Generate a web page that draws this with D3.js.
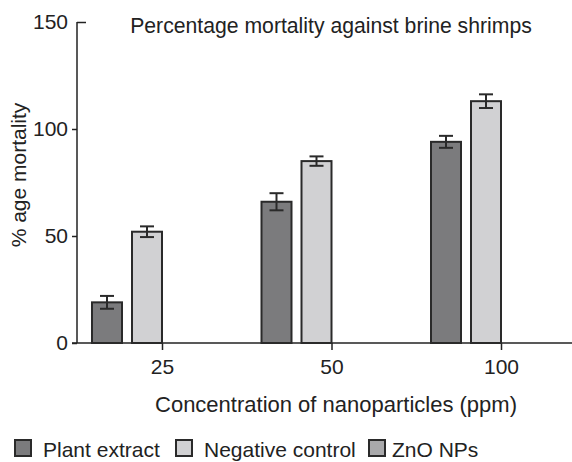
<!DOCTYPE html>
<html><head><meta charset="utf-8">
<script src="https://cdn.jsdelivr.net/npm/d3@7"></script>
<style>body{margin:0;background:#fff}svg{display:block}text{font-family:"Liberation Sans",Arial,sans-serif;fill:#222}</style>
</head><body><svg id="c" width="572" height="462"></svg>
<script>
const categories = ["25","50","100"];
const seriesNames = ["Plant extract","Negative control","ZnO NPs"];
const plantExtract = [19, 66, 94];
const plantErr = [3, 4, 2.8];
const negativeControl = [52, 85, 113];
const negErr = [2.5, 2.2, 3.2];
const znoNPs = [0, 0, 0];
const yTicks = [0, 50, 100, 150];
const colors = ["#7b7b7d", "#d1d1d3", "#a9a9ab"];

const svg = d3.select("#c");
const y = d3.scaleLinear().domain([0,150]).range([343,22]);
const x = d3.scalePoint().domain(categories).range([162,501]);
const barW = 30;
const offsets = [-70, -30];
const series = [
  {vals: plantExtract, err: plantErr, color: colors[0]},
  {vals: negativeControl, err: negErr, color: colors[1]}
];

// axes
const ax = svg.append("g").attr("transform","translate(77,0)")
  .call(d3.axisLeft(y).tickValues(yTicks).tickSize(5).tickPadding(4).tickFormat(d3.format("d")));
ax.select(".domain").remove();
ax.selectAll("text").style("font-size","21px").attr("fill","#222");
ax.selectAll("line").attr("stroke","#222").attr("stroke-width",1.5);
ax.selectAll(".tick").filter(d=>d===150).select("line").attr("x2",9);
svg.append("line").attr("x1",77).attr("x2",77).attr("y1",y(150)).attr("y2",y(0)).attr("stroke","#222").attr("stroke-width",1.5);
svg.append("line").attr("x1",72).attr("x2",572).attr("y1",y(0)).attr("y2",y(0)).attr("stroke","#222").attr("stroke-width",1.5);

const xa = svg.append("g").attr("transform",`translate(0,${y(0)})`)
  .call(d3.axisBottom(x).tickSize(7).tickPadding(9));
xa.select(".domain").remove();
xa.selectAll("text").style("font-size","21px").attr("fill","#222");
xa.selectAll("line").attr("stroke","#222").attr("stroke-width",1.5);

// bars
series.forEach((s,si)=>{
  const g = svg.append("g");
  g.selectAll("rect").data(s.vals).join("rect")
    .attr("x",(d,i)=>x(categories[i])+offsets[si])
    .attr("y",d=>y(d))
    .attr("width",barW)
    .attr("height",d=>y(0)-y(d))
    .attr("fill",s.color).attr("stroke","#2a2a2a").attr("stroke-width",2);
  s.vals.forEach((v,i)=>{
    const cx = x(categories[i])+offsets[si]+barW/2;
    const e = s.err[i];
    g.append("line").attr("x1",cx).attr("x2",cx).attr("y1",y(v+e)).attr("y2",y(v-e)).attr("stroke","#2a2a2a").attr("stroke-width",2);
    [v+e, v-e].forEach(t=>g.append("line").attr("x1",cx-7).attr("x2",cx+7).attr("y1",y(t)).attr("y2",y(t)).attr("stroke","#2a2a2a").attr("stroke-width",2));
  });
});

// titles
svg.append("text").attr("x",331).attr("y",33).attr("text-anchor","middle").style("font-size","21.2px").text("Percentage mortality against brine shrimps");
svg.append("text").attr("x",336).attr("y",412).attr("text-anchor","middle").style("font-size","22px").text("Concentration of nanoparticles (ppm)");
svg.append("text").attr("transform","translate(26,175) rotate(-90)").attr("text-anchor","middle").style("font-size","21px").text("% age mortality");

// legend
const legX = [14, 175, 368];
seriesNames.forEach((n,i)=>{
  svg.append("rect").attr("x",legX[i]+1).attr("y",440).attr("width",16).attr("height",16)
    .attr("fill",colors[i]).attr("stroke","#2a2a2a").attr("stroke-width",2);
  svg.append("text").attr("x",legX[i]+(i===2?24:29)).attr("y",457).style("font-size","21px").text(n);
});
</script></body></html>
